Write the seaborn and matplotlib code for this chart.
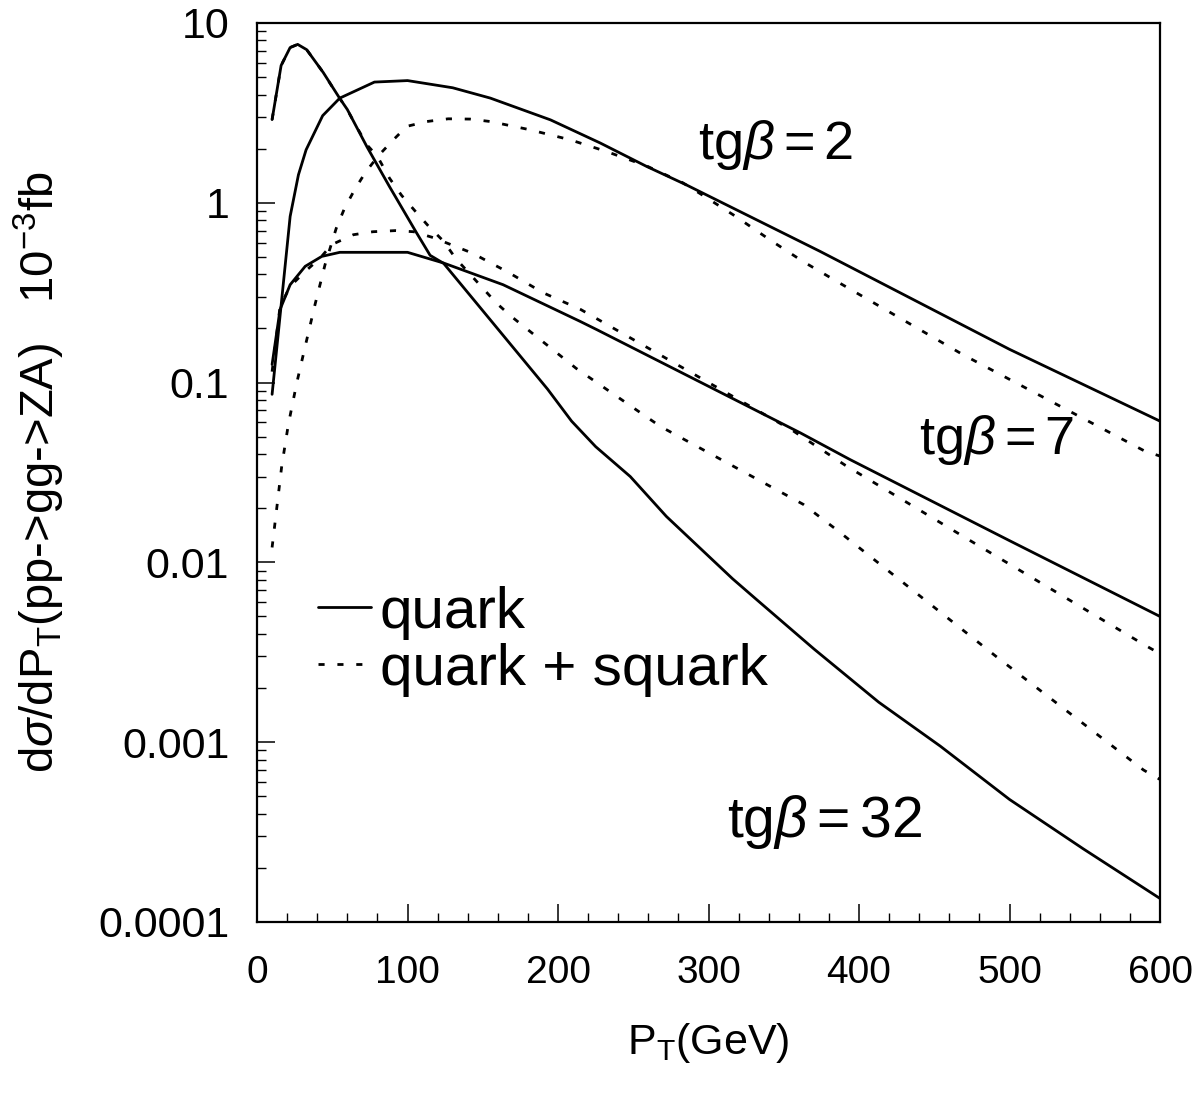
import numpy as np
import pandas as pd
import seaborn as sns
import matplotlib.pyplot as plt
from matplotlib.lines import Line2D
from matplotlib.ticker import LogLocator, MultipleLocator, FixedFormatter, FixedLocator

# tg(beta) = 2
pt_2q = [10, 22, 27.5, 32.6, 43.6, 55, 78, 100, 130, 155, 195, 228, 259, 285, 374, 394, 500, 600]
sig_2q = [0.086, 0.84, 1.43, 1.97, 3.05, 3.82, 4.69, 4.78, 4.36, 3.82, 2.89, 2.15, 1.59, 1.26, 0.537, 0.44, 0.153, 0.061]
pt_2s = [10, 13, 16.4, 20.8, 26.4, 32.3, 38.5, 45.2, 52.6, 58.1, 64.8, 72.1, 81, 90.6, 99.5, 112.8,
         127, 141.5, 155, 181, 208, 232, 259, 283, 294, 318, 341, 363, 387, 469, 590, 600]
sig_2s = [0.0121, 0.0197, 0.0343, 0.0585, 0.0996, 0.163, 0.271, 0.453, 0.72, 0.93, 1.18, 1.48, 1.84, 2.24, 2.66, 2.83,
          2.93, 2.92, 2.83, 2.55, 2.24, 1.93, 1.6, 1.29, 1.13, 0.84, 0.62, 0.47, 0.358, 0.143, 0.0415, 0.039]

# tg(beta) = 7
pt_7q = [10, 15.3, 22, 32, 43, 55, 100, 124, 163.5, 214.6, 225.7, 361, 394, 500, 600]
sig_7q = [0.126, 0.255, 0.35, 0.443, 0.503, 0.53, 0.53, 0.462, 0.35, 0.219, 0.197, 0.0525, 0.0373, 0.0132, 0.005]
pt_7s = [10, 15.3, 22, 32, 42, 49.6, 64, 77, 92, 104, 117, 143, 167, 190, 215, 300, 356, 391, 480, 589, 600]
sig_7s = [0.115, 0.265, 0.343, 0.415, 0.493, 0.585, 0.664, 0.69, 0.70, 0.69, 0.64, 0.525, 0.41, 0.316, 0.255,
          0.1, 0.054, 0.0346, 0.0123, 0.0035, 0.0031]

# tg(beta) = 32
pt_32q = [10, 16, 22, 27, 33, 44, 55, 60, 73, 88, 106, 115, 124, 193, 209, 225, 248, 272, 316, 332,
          370, 413, 454, 500, 549, 600]
sig_32q = [2.9, 5.8, 7.3, 7.6, 7.1, 5.3, 3.8, 3.3, 2.05, 1.23, 0.68, 0.51, 0.46, 0.092, 0.061, 0.044, 0.030,
           0.018, 0.0081, 0.0062, 0.0033, 0.00167, 0.00095, 0.00048, 0.000255, 0.000135]
pt_32s = [10, 16, 22, 27, 33, 44, 52, 60, 66, 73, 80, 88, 96, 105, 114, 124, 132, 159, 169, 212, 268,
          363, 385, 491, 567, 589, 600]
sig_32s = [2.9, 5.8, 7.3, 7.6, 7.1, 5.3, 4.15, 3.29, 2.66, 2.1, 1.81, 1.37, 1.1, 0.9, 0.74, 0.61, 0.49,
           0.277, 0.233, 0.12, 0.057, 0.021, 0.0152, 0.0030, 0.00097, 0.0007, 0.00062]

curves = [
    (pt_2q, sig_2q, '-'), (pt_2s, sig_2s, ':'),
    (pt_7q, sig_7q, '-'), (pt_7s, sig_7s, ':'),
    (pt_32q, sig_32q, '-'), (pt_32s, sig_32s, ':'),
]

sns.set_style("white")
plt.rcParams['font.family'] = ['Liberation Sans', 'DejaVu Sans']
plt.rcParams['mathtext.fontset'] = 'custom'
plt.rcParams['mathtext.rm'] = 'Liberation Sans'
plt.rcParams['mathtext.it'] = 'Liberation Sans:italic'
plt.rcParams['text.color'] = 'black'
plt.rcParams['axes.labelcolor'] = 'black'
plt.rcParams['xtick.color'] = 'black'
plt.rcParams['ytick.color'] = 'black'

DOT = (0, (2.2, 4.6))

fig = plt.figure(figsize=(12, 10.93), dpi=100)
ax = fig.add_axes([0.2142, 0.1565, 0.7525, 0.8225])

for pt, sig, ls in curves:
    df = pd.DataFrame({'pt': pt, 'sigma': sig})
    sns.lineplot(data=df, x='pt', y='sigma', ax=ax, color='black', lw=2.0,
                 linestyle='-' if ls == '-' else DOT, sort=False)

ax.set_yscale('log')
ax.set_xlim(0, 600)
ax.set_ylim(1e-4, 10)

ax.xaxis.set_major_locator(MultipleLocator(100))
ax.xaxis.set_minor_locator(MultipleLocator(20))
yt = [1e-4, 1e-3, 1e-2, 1e-1, 1, 10]
ax.yaxis.set_major_locator(FixedLocator(yt))
ax.yaxis.set_major_formatter(FixedFormatter(['0.0001', '0.001', '0.01', '0.1', '1', '10']))
ax.yaxis.set_minor_locator(LogLocator(base=10, subs=np.arange(2, 10)))

ax.tick_params(axis='both', which='major', direction='in', length=13, width=1.1,
               bottom=True, left=True, top=False, right=False, colors='black')
ax.tick_params(axis='both', which='minor', direction='in', length=6.5, width=1.0,
               bottom=True, left=True, top=False, right=False, colors='black')
ax.tick_params(axis='y', which='major', labelsize=31, pad=20)
ax.tick_params(axis='x', which='major', labelsize=28, pad=24)
for s in ax.spines.values():
    s.set_linewidth(1.6)
    s.set_color('black')

ax.set_xlabel(r'P$_{\rm T}$(GeV)', fontsize=31)
ax.set_ylabel(r'd$\sigma$/dP$_{\rm T}$(pp->gg->ZA)   10$^{-3}$fb', fontsize=34)
ax.xaxis.set_label_coords(0.5, -0.11)
ax.yaxis.set_label_coords(-0.21, 0.5)

ax.text(293, 2.1, r'tg$\beta = 2$', fontsize=39, va='center', ha='left')
ax.text(440, 0.048, r'tg$\beta = 7$', fontsize=39, va='center', ha='left')
ax.text(312, 0.00036, r'tg$\beta = 32$', fontsize=41, va='center', ha='left')

handles = [Line2D([], [], color='black', lw=2.0, linestyle='-'),
           Line2D([], [], color='black', lw=2.0, linestyle=DOT)]
ax.legend(handles, ['quark', 'quark + squark'], loc='upper left',
          bbox_to_anchor=(0.042, 0.4), frameon=False, fontsize=42,
          handlelength=0.9, handletextpad=0.15, labelspacing=0.05, borderaxespad=0)

plt.savefig('out.png', dpi=100)
plt.close()
